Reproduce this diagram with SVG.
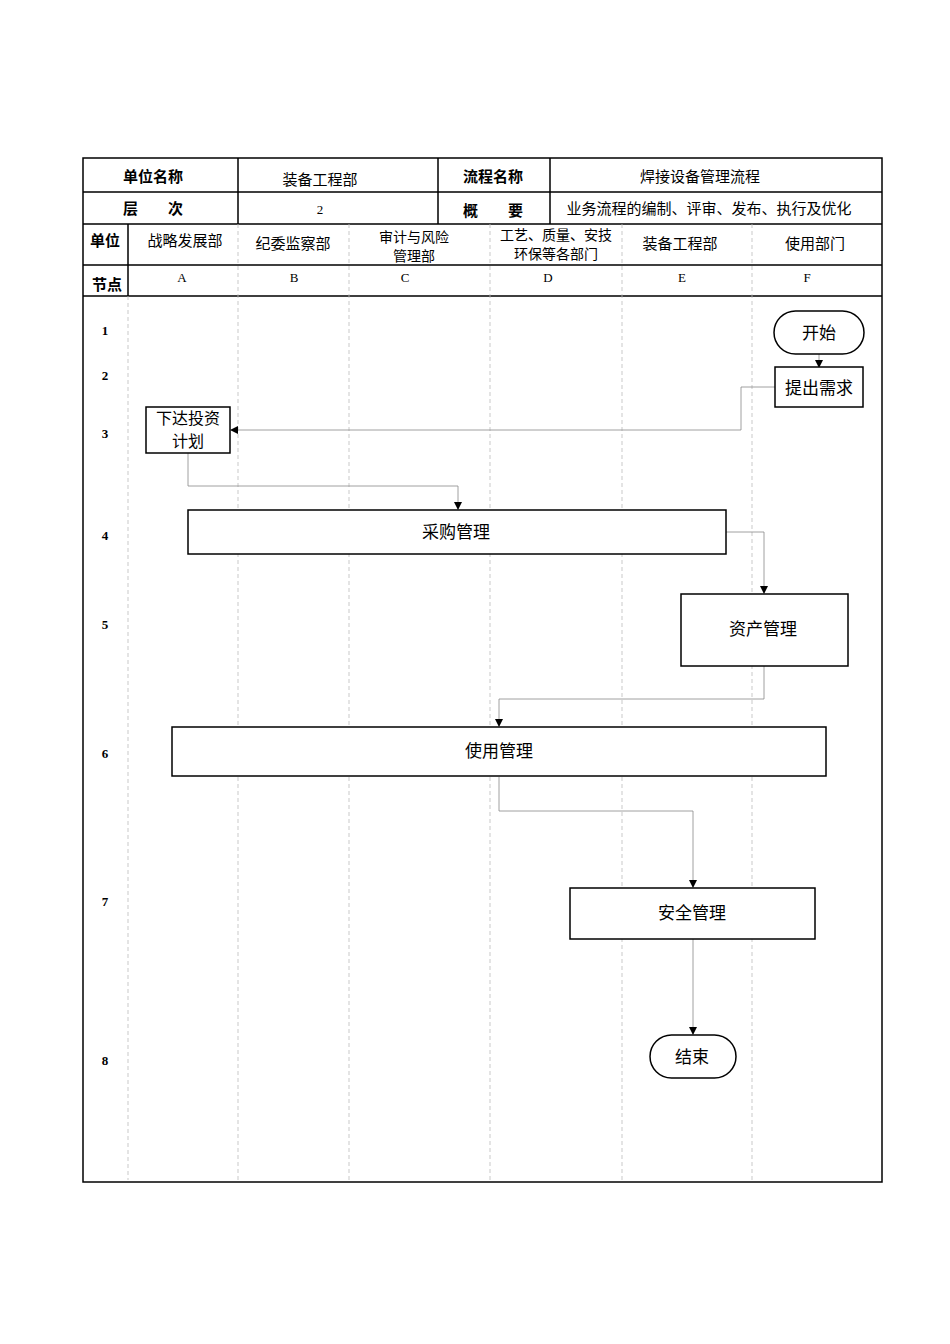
<svg xmlns="http://www.w3.org/2000/svg" width="950" height="1344" viewBox="0 0 950 1344">
<style>
.t{font-family:"Noto Sans CJK SC","Liberation Sans",sans-serif;font-size:15px;fill:#000;text-anchor:middle}
.t2{font-size:14px}
.b{font-weight:bold}
.s{font-family:"Liberation Serif",serif;font-size:13px;text-anchor:middle}
.sb{font-family:"Liberation Serif",serif;font-size:13px;font-weight:bold;text-anchor:middle}
.g{stroke:#000;stroke-width:1.5;fill:none}
.d{stroke:#bbb;stroke-width:0.8;stroke-dasharray:4,3;fill:none}
.box{fill:#fff;stroke:#000;stroke-width:1.5}
.c{stroke:#888;stroke-width:0.8;fill:none;marker-end:url(#a)}
.n{font-family:"Noto Sans CJK SC","Liberation Sans",sans-serif;font-size:17px;text-anchor:middle}
.n2{font-size:16px}
</style>
<defs><marker id="a" markerWidth="8" markerHeight="8" refX="7" refY="4" orient="auto" markerUnits="userSpaceOnUse"><path d="M0,0 L8,4 L0,8z" fill="#000"/></marker></defs>
<rect width="950" height="1344" fill="#fff"/>
<g id="grid">
<rect x="83" y="158" width="799" height="1024" class="g"/>
<path class="g" d="M83 192H882M83 224H882M83 265H882M83 296H882M238 158V224M438 158V224M550 158V224M128 224V296"/>
<path class="d" d="M128 296V1180M238 224V1180M349 224V1180M490 224V1180M622 224V1180M752 224V1180"/>
</g>
<g id="header">
<text class="t b" x="153" y="182">单位名称</text>
<text class="t" x="320" y="185">装备工程部</text>
<text class="t b" x="493" y="182">流程名称</text>
<text class="t" x="700" y="182">焊接设备管理流程</text>
<text class="t b" x="153" y="214">层　　次</text>
<text class="s" x="320" y="214">2</text>
<text class="t b" x="493" y="216">概　　要</text>
<text class="t" x="709" y="214">业务流程的编制、评审、发布、执行及优化</text>
<text class="t b" x="105" y="246">单位</text>
<text class="t" x="185" y="246">战略发展部</text>
<text class="t" x="293" y="249">纪委监察部</text>
<text class="t t2" x="414" y="242">审计与风险</text>
<text class="t t2" x="414" y="261">管理部</text>
<text class="t t2" x="556" y="240">工艺、质量、安技</text>
<text class="t t2" x="556" y="259">环保等各部门</text>
<text class="t" x="680" y="249">装备工程部</text>
<text class="t" x="815" y="249">使用部门</text>
<text class="t b" x="107" y="290">节点</text>
<text class="s" x="182" y="282">A</text><text class="s" x="294" y="282">B</text><text class="s" x="405" y="282">C</text><text class="s" x="548" y="282">D</text><text class="s" x="682" y="282">E</text><text class="s" x="807" y="282">F</text>
<text class="sb" x="105" y="335">1</text><text class="sb" x="105" y="380">2</text><text class="sb" x="105" y="438">3</text><text class="sb" x="105" y="540">4</text><text class="sb" x="105" y="629">5</text><text class="sb" x="105" y="758">6</text><text class="sb" x="105" y="906">7</text><text class="sb" x="105" y="1065">8</text>
</g>
<g id="connectors">
<path class="c" d="M819 354V367"/>
<path class="c" d="M775 387H741V430H231"/>
<path class="c" d="M188 453V486H458V509"/>
<path class="c" d="M726 532H764V593"/>
<path class="c" d="M764 666V699H499V726"/>
<path class="c" d="M499 777V811H693V887"/>
<path class="c" d="M693 939V1034"/>
</g>
<g id="n_start"><rect x="774" y="311" width="90" height="43" rx="21.5" class="box"/><text class="n" x="819" y="339">开始</text></g>
<g id="n_req"><rect x="775" y="367" width="88" height="40" class="box"/><text class="n" x="819" y="394">提出需求</text></g>
<g id="n_plan"><rect x="146" y="407" width="84" height="46" class="box"/><text class="n n2" x="188" y="424">下达投资</text><text class="n n2" x="188" y="447">计划</text></g>
<g id="n_buy"><rect x="188" y="510" width="538" height="44" class="box"/><text class="n" x="456" y="538">采购管理</text></g>
<g id="n_asset"><rect x="681" y="594" width="167" height="72" class="box"/><text class="n" x="763" y="635">资产管理</text></g>
<g id="n_use"><rect x="172" y="727" width="654" height="49" class="box"/><text class="n" x="499" y="757">使用管理</text></g>
<g id="n_safe"><rect x="570" y="888" width="245" height="51" class="box"/><text class="n" x="692" y="919">安全管理</text></g>
<g id="n_end"><rect x="650" y="1035" width="86" height="43" rx="21.5" class="box"/><text class="n" x="692" y="1063">结束</text></g>
</svg>
